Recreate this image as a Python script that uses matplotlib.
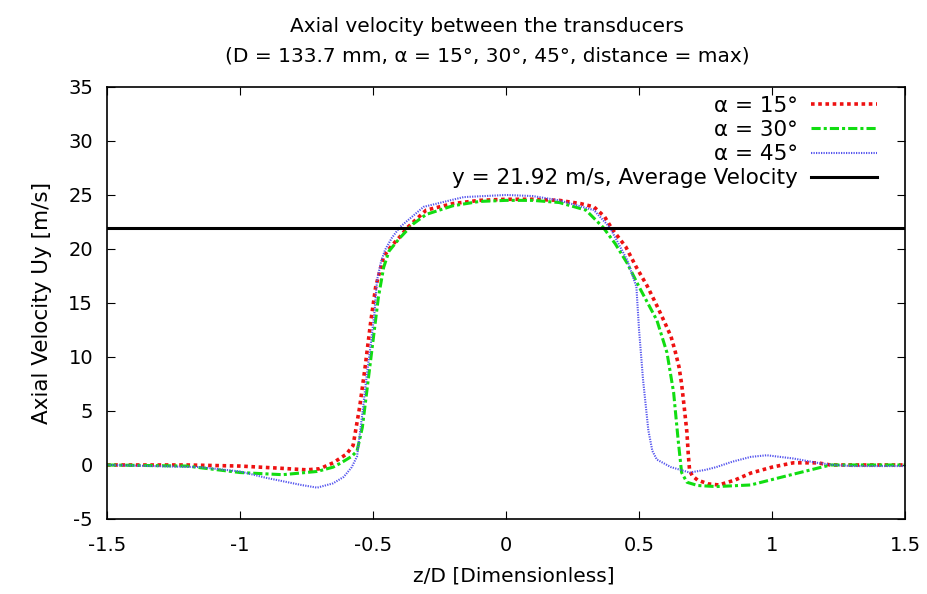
import numpy as np
import matplotlib.pyplot as plt

plt.rcParams['font.family'] = ['DejaVu Sans']

# axial velocity profiles, z/D vs Uy [m/s]
z_15 = [-1.5, -1.2, -1.0, -0.85, -0.75, -0.7, -0.65, -0.6, -0.575, -0.55,
        -0.53, -0.51, -0.49, -0.46, -0.43, -0.4, -0.37, -0.3, -0.2, -0.1,
        0.0, 0.1, 0.2, 0.28, 0.33, 0.37, 0.40, 0.45, 0.49, 0.53,
        0.57, 0.60, 0.62, 0.635, 0.65, 0.66, 0.67, 0.68, 0.685, 0.69,
        0.70, 0.72, 0.76, 0.80, 0.86, 0.92, 1.0, 1.08, 1.17, 1.22,
        1.3, 1.5]
u_15 = [0, 0, -0.1, -0.3, -0.45, -0.35, 0.2, 1.0, 1.8, 5.4,
        9.0, 13.0, 16.5, 19.3, 20.3, 21.1, 22.0, 23.6, 24.2, 24.5,
        24.6, 24.6, 24.5, 24.2, 23.9, 23.0, 21.8, 20.2, 18.3, 16.6,
        14.6, 13.0, 11.9, 10.6, 9.1, 7.5, 5.3, 3.0, 1.0, -0.5,
        -1.0, -1.4, -1.75, -1.85, -1.4, -0.75, -0.2, 0.2, 0.2, 0.0,
        0.0, 0.0]

z_30 = [-1.5, -1.2, -1.0, -0.84, -0.71, -0.65, -0.62, -0.58, -0.56, -0.54,
        -0.52, -0.50, -0.48, -0.46, -0.44, -0.40, -0.35, -0.30, -0.2, -0.1,
        0.0, 0.1, 0.2, 0.3, 0.365, 0.41, 0.455, 0.50, 0.567, 0.605,
        0.63, 0.647, 0.66, 0.68, 0.72, 0.79, 0.92, 1.04, 1.17, 1.22,
        1.3, 1.5]
u_30 = [0, -0.1, -0.7, -0.9, -0.6, -0.2, 0.2, 0.8, 1.3, 3.5,
        7.5, 11.5, 15.5, 18.3, 19.8, 21.0, 22.3, 23.2, 24.0, 24.4,
        24.5, 24.5, 24.3, 23.6, 22.0, 20.5, 18.7, 16.5, 13.4, 10.4,
        6.7, 2.3, -0.7, -1.6, -1.9, -2.0, -1.85, -1.1, -0.3, 0.0,
        0.0, 0.0]

z_45 = [-1.5, -1.15, -1.0, -0.9, -0.77, -0.71, -0.65, -0.61, -0.58, -0.56,
        -0.54, -0.525, -0.51, -0.495, -0.485, -0.47, -0.455, -0.43, -0.40, -0.31,
        -0.16, 0.0, 0.1, 0.2, 0.33, 0.39, 0.455, 0.49, 0.50, 0.515,
        0.535, 0.55, 0.567, 0.62, 0.69, 0.75, 0.79, 0.85, 0.92, 0.98,
        1.08, 1.17, 1.23, 1.3, 1.5]
u_45 = [0, -0.2, -0.6, -1.2, -1.85, -2.1, -1.7, -1.1, -0.2, 0.8,
        4.8, 8.0, 10.9, 14.0, 17.1, 18.8, 19.9, 21.0, 22.0, 23.9,
        24.8, 25.0, 24.9, 24.5, 23.6, 22.0, 19.0, 16.5, 12.5, 7.9,
        3.2, 1.3, 0.5, -0.2, -0.7, -0.45, -0.2, 0.3, 0.75, 0.9,
        0.6, 0.2, 0.0, -0.1, -0.1]

u_avg = 21.92

fig = plt.figure(figsize=(9.28, 5.94), dpi=100)
ax = fig.add_axes([0.1153, 0.1263, 0.86, 0.7273])

ax.plot(z_15, u_15, color='#ee1111', lw=2.6, ls=(0, (1, 1)), label='α = 15°')
ax.plot(z_30, u_30, color='#11dd11', lw=2.2, ls=(0, (3, 1, 1, 1)), label='α = 30°')
ax.plot(z_45, u_45, color='#5555ee', lw=1.5, ls=(0, (0.6, 0.6)), label='α = 45°')
ax.axhline(u_avg, color='black', lw=2.2,
           label='y = %.2f m/s, Average Velocity' % u_avg)

ax.set_xlim(-1.5, 1.5)
ax.set_ylim(-5, 35)
ax.set_xticks([-1.5, -1, -0.5, 0, 0.5, 1, 1.5])
ax.set_xticklabels(['-1.5', '-1', '-0.5', '0', '0.5', '1', '1.5'])
ax.set_yticks(np.arange(-5, 36, 5))
ax.set_yticklabels([str(v) for v in range(-5, 36, 5)])
ax.tick_params(direction='in', top=True, right=True, labelsize=14, length=6)
ax.tick_params(axis='x', pad=12)
ax.tick_params(axis='y', pad=10)
for s in ax.spines.values():
    s.set_linewidth(1.2)

ax.set_xlabel('z/D [Dimensionless]', fontsize=14.5)
ax.xaxis.set_label_coords(0.51, -0.11)
ax.set_ylabel('Axial Velocity Uy [m/s]', fontsize=15.5, labelpad=12)

# two-line title
fig.text(487 / 928, 1 - 26 / 594, 'Axial velocity between the transducers',
         ha='center', va='center', fontsize=14.5)
fig.text(487 / 928, 1 - 56 / 594,
         '(D = 133.7 mm, α = 15°, 30°, 45°, distance = max)',
         ha='center', va='center', fontsize=14.5)

ax.legend(loc='upper right', bbox_to_anchor=(0.976, 1.0), frameon=False,
          markerfirst=False, fontsize=15.5, handlelength=3.1, labelspacing=0.2,
          borderaxespad=0.0, handletextpad=0.6)

fig.savefig('out.png', dpi=100)
